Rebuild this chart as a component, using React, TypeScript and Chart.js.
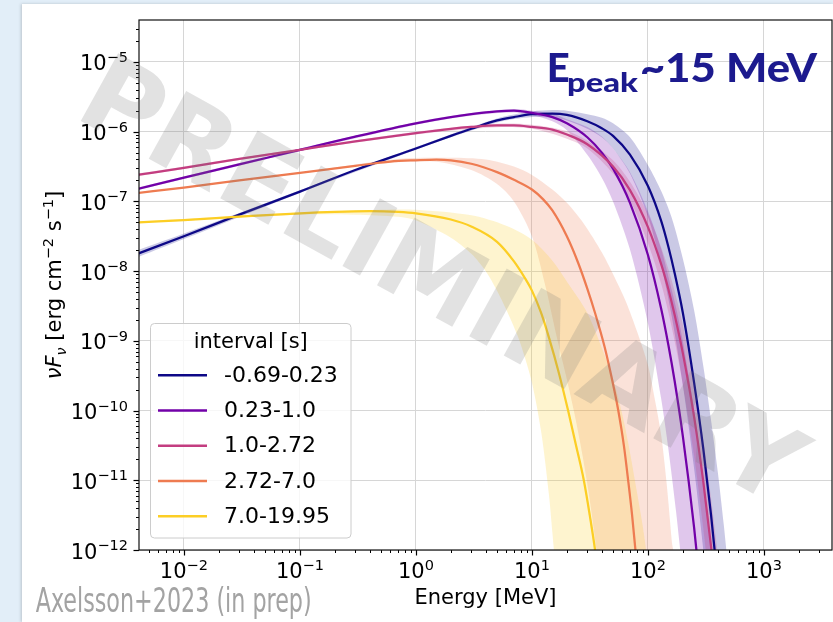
import React, { useEffect, useRef } from "react";
import { Chart, registerables } from "chart.js";

Chart.register(...registerables);

const W = 833;
const H = 622;

// Axis ranges (Energy in MeV, νFν in erg cm^-2 s^-1)
const X_MIN = 0.0041;
const X_MAX = 3860;
const Y_MIN = 1e-12;
const Y_MAX = 4e-5;

const xMajorTicks = [1e-2, 1e-1, 1, 10, 100, 1000];
const yMajorTicks = [1e-12, 1e-11, 1e-10, 1e-9, 1e-8, 1e-7, 1e-6, 1e-5];

const intervalLabels = ["-0.69-0.23", "0.23-1.0", "1.0-2.72", "2.72-7.0", "7.0-19.95"];
const lineColors = ["#0d0887", "#7201a8", "#c33d80", "#ee7b51", "#fcce25"];
const bandColors = [
  "rgba(13,8,135,0.22)",
  "rgba(114,1,168,0.22)",
  "rgba(195,61,128,0.22)",
  "rgba(238,123,81,0.22)",
  "rgba(252,206,37,0.22)",
];

// interval -0.69 – 0.23 s
const int1Energy = [0.004, 0.01, 0.03, 0.1, 0.3, 1, 2, 3, 5, 7, 10, 15, 20, 30, 40, 50, 70, 100, 130, 150, 170, 200, 250, 300, 350, 400];
const int1Flux = [1.78e-8, 3.16e-8, 6.46e-8, 1.38e-7, 2.82e-7, 5.75e-7, 8.71e-7, 1.1e-6, 1.45e-6, 1.62e-6, 1.78e-6, 1.82e-6, 1.74e-6, 1.41e-6, 1.12e-6, 8.71e-7, 4.68e-7, 1.66e-7, 5.25e-8, 2.24e-8, 9.33e-9, 2.51e-9, 2.51e-10, 2.82e-11, 3.16e-12, 3.55e-13];
const int1UpperEnergy = [0.004, 0.01, 0.1, 1, 5, 10, 15, 20, 30, 40, 50, 70, 100, 130, 160, 200, 250, 300, 350, 400, 450, 500, 550];
const int1UpperFlux = [2.0e-8, 3.47e-8, 1.45e-7, 6.03e-7, 1.55e-6, 1.95e-6, 2.04e-6, 2.0e-6, 1.78e-6, 1.58e-6, 1.32e-6, 8.32e-7, 3.31e-7, 1.41e-7, 5.89e-8, 1.51e-8, 2.75e-9, 4.37e-10, 7.24e-11, 1.32e-11, 2.34e-12, 3.98e-13, 7.94e-14];
const int1LowerEnergy = [0.004, 0.01, 0.1, 1, 5, 10, 15, 20, 30, 40, 50, 70, 100, 130, 160, 200, 250, 300, 330];
const int1LowerFlux = [1.58e-8, 2.88e-8, 1.32e-7, 5.5e-7, 1.35e-6, 1.62e-6, 1.58e-6, 1.45e-6, 1.1e-6, 8.32e-7, 5.75e-7, 2.51e-7, 6.03e-8, 1.2e-8, 2.29e-9, 2.29e-10, 1.48e-11, 1.0e-12, 1.78e-13];

// interval 0.23 – 1.0 s
const int2Energy = [0.004, 0.01, 0.03, 0.1, 0.3, 1, 2, 3, 5, 7, 10, 15, 20, 30, 40, 50, 70, 100, 130, 150, 170, 200, 250, 280];
const int2Flux = [1.51e-7, 2.19e-7, 3.39e-7, 5.5e-7, 8.51e-7, 1.32e-6, 1.62e-6, 1.78e-6, 1.95e-6, 2.0e-6, 1.86e-6, 1.62e-6, 1.32e-6, 8.32e-7, 5.01e-7, 2.95e-7, 9.55e-8, 1.7e-8, 2.88e-9, 8.71e-10, 2.63e-10, 4.27e-11, 2.09e-12, 3.31e-13];
const int2UpperEnergy = [0.004, 0.1, 1, 3, 7, 10, 15, 20, 30, 40, 50, 70, 100, 130, 150, 175, 200, 250, 300, 350, 380];
const int2UpperFlux = [1.58e-7, 5.75e-7, 1.38e-6, 1.86e-6, 2.11e-6, 2.0e-6, 1.82e-6, 1.51e-6, 1.17e-6, 8.51e-7, 5.75e-7, 2.63e-7, 7.24e-8, 2.09e-8, 8.32e-9, 2.95e-9, 9.77e-10, 1.02e-10, 1.05e-11, 1.17e-12, 3.16e-13];
const int2LowerEnergy = [0.004, 0.1, 1, 3, 7, 10, 15, 20, 30, 40, 50, 70, 100, 130, 150, 175, 200, 220];
const int2LowerFlux = [1.45e-7, 5.25e-7, 1.26e-6, 1.7e-6, 1.88e-6, 1.74e-6, 1.41e-6, 1.05e-6, 4.68e-7, 2.19e-7, 1.0e-7, 2.04e-8, 1.78e-9, 1.48e-10, 2.82e-11, 3.47e-12, 4.17e-13, 7.94e-14];

// interval 1.0 – 2.72 s
const int3Energy = [0.004, 0.01, 0.03, 0.1, 0.3, 1, 2, 3, 5, 7, 10, 15, 20, 30, 50, 70, 100, 130, 150, 170, 200, 250, 300, 350, 380];
const int3Flux = [2.4e-7, 3.02e-7, 4.07e-7, 5.5e-7, 7.24e-7, 9.55e-7, 1.1e-6, 1.17e-6, 1.23e-6, 1.23e-6, 1.17e-6, 1.07e-6, 9.12e-7, 6.61e-7, 3.16e-7, 1.45e-7, 4.27e-8, 1.26e-8, 5.5e-9, 2.34e-9, 6.61e-10, 8.13e-11, 9.55e-12, 1.12e-12, 3.16e-13];
const int3UpperEnergy = [0.004, 0.1, 1, 5, 10, 20, 30, 50, 70, 100, 130, 150, 175, 200, 250, 300, 350, 400, 430];
const int3UpperFlux = [2.51e-7, 5.69e-7, 1.0e-6, 1.3e-6, 1.26e-6, 1.02e-6, 7.41e-7, 3.89e-7, 1.91e-7, 6.61e-8, 2.19e-8, 1.07e-8, 4.27e-9, 1.7e-9, 2.34e-10, 3.8e-11, 5.5e-12, 8.51e-13, 2.51e-13];
const int3LowerEnergy = [0.004, 0.1, 1, 5, 10, 20, 30, 50, 70, 100, 130, 150, 175, 200, 250, 300, 330, 350];
const int3LowerFlux = [2.29e-7, 5.31e-7, 9.12e-7, 1.16e-6, 1.1e-6, 7.94e-7, 5.75e-7, 2.51e-7, 1.05e-7, 2.51e-8, 6.61e-9, 2.57e-9, 7.76e-10, 2.34e-10, 2.24e-11, 2.04e-12, 4.79e-13, 1.78e-13];

// interval 2.72 – 7.0 s
const int4Energy = [0.004, 0.01, 0.03, 0.1, 0.3, 0.6, 1, 1.5, 2, 3, 5, 7, 10, 12.5, 15, 20, 25, 30, 35, 42.5, 50, 55.5, 62, 67.5, 73, 78, 84];
const int4Flux = [1.32e-7, 1.58e-7, 2.0e-7, 2.57e-7, 3.24e-7, 3.72e-7, 3.89e-7, 3.98e-7, 3.89e-7, 3.47e-7, 2.63e-7, 2.04e-7, 1.48e-7, 1.07e-7, 7.41e-8, 3.16e-8, 1.32e-8, 5.62e-9, 2.51e-9, 7.94e-10, 2.4e-10, 1.0e-10, 3.16e-11, 1.0e-11, 3.16e-12, 1.0e-12, 2.51e-13];
const int4UpperEnergy = [0.004, 0.1, 0.7, 2, 4, 7, 10, 15, 20, 28, 40, 53, 65, 80, 100, 115, 130, 145, 160, 175];
const int4UpperFlux = [1.33e-7, 2.6e-7, 4.07e-7, 4.22e-7, 3.98e-7, 3.16e-7, 2.4e-7, 1.48e-7, 9.55e-8, 4.79e-8, 1.86e-8, 7.41e-9, 3.55e-9, 1.41e-9, 4.47e-10, 1.41e-10, 4.47e-11, 8.91e-12, 1.41e-12, 2.0e-13];
const int4LowerEnergy = [0.004, 0.1, 0.7, 1.5, 3, 5, 7, 10, 13, 16.4, 20, 23.3, 27, 31, 36, 40];
const int4LowerFlux = [1.3e-7, 2.54e-7, 3.63e-7, 3.72e-7, 2.82e-7, 1.78e-7, 1.0e-7, 3.16e-8, 6.31e-9, 1.12e-9, 2.82e-10, 8.91e-11, 2.51e-11, 6.31e-12, 1.0e-12, 2.0e-13];

// interval 7.0 – 19.95 s
const int5Energy = [0.004, 0.01, 0.03, 0.1, 0.2, 0.4, 0.7, 1, 2, 3, 5, 7, 8.7, 10, 12, 14, 17, 20.5, 24, 28, 31.5, 35, 38];
const int5Flux = [5.01e-8, 5.37e-8, 6.03e-8, 6.76e-8, 7.08e-8, 7.24e-8, 7.08e-8, 6.76e-8, 5.5e-8, 4.37e-8, 2.63e-8, 1.38e-8, 7.94e-9, 5.25e-9, 2.51e-9, 1.12e-9, 3.55e-10, 1.0e-10, 3.16e-11, 1.0e-11, 3.16e-12, 1.0e-12, 3.16e-13];
const int5UpperEnergy = [0.004, 0.1, 0.5, 1, 3, 6, 10, 15, 20, 30, 40, 50, 60, 70, 80, 90, 100, 115];
const int5UpperFlux = [5.13e-8, 6.92e-8, 7.59e-8, 7.59e-8, 6.31e-8, 4.47e-8, 2.82e-8, 1.41e-8, 7.08e-9, 2.51e-9, 7.94e-10, 2.82e-10, 8.91e-11, 2.51e-11, 7.08e-12, 2.24e-12, 6.31e-13, 1.0e-13];
const int5LowerEnergy = [0.004, 0.1, 0.3, 0.7, 1, 2, 3, 4, 5, 6, 7, 8, 10, 12, 14, 15, 16, 17];
const int5LowerFlux = [4.9e-8, 6.46e-8, 6.46e-8, 6.03e-8, 5.37e-8, 3.02e-8, 1.78e-8, 1.0e-8, 5.25e-9, 2.82e-9, 1.58e-9, 8.91e-10, 2.51e-10, 5.01e-11, 6.31e-12, 1.78e-12, 5.01e-13, 1.0e-13];

const intervals = [
  { e: int1Energy, f: int1Flux, ue: int1UpperEnergy, uf: int1UpperFlux, le: int1LowerEnergy, lf: int1LowerFlux },
  { e: int2Energy, f: int2Flux, ue: int2UpperEnergy, uf: int2UpperFlux, le: int2LowerEnergy, lf: int2LowerFlux },
  { e: int3Energy, f: int3Flux, ue: int3UpperEnergy, uf: int3UpperFlux, le: int3LowerEnergy, lf: int3LowerFlux },
  { e: int4Energy, f: int4Flux, ue: int4UpperEnergy, uf: int4UpperFlux, le: int4LowerEnergy, lf: int4LowerFlux },
  { e: int5Energy, f: int5Flux, ue: int5UpperEnergy, uf: int5UpperFlux, le: int5LowerEnergy, lf: int5LowerFlux },
];

const toPoints = (e: number[], f: number[]) => e.map((x, i) => ({ x, y: f[i] }));

const FONT = '"DejaVu Sans", "Liberation Sans", sans-serif';
const TICK_PX = 21;
const SUP_PX = 14.5;
const SUP_RAISE = 8.5;

// "10" with a raised exponent, as in mathtext tick labels
function drawPower(ctx: CanvasRenderingContext2D, exp: number, x: number, y: number, align: "right" | "center") {
  const base = "10";
  const sup = exp < 0 ? "\u2212" + Math.abs(exp) : String(exp);
  ctx.font = `${TICK_PX}px ${FONT}`;
  const wb = ctx.measureText(base).width;
  ctx.font = `${SUP_PX}px ${FONT}`;
  const ws = ctx.measureText(sup).width;
  const total = wb + ws;
  const x0 = align === "right" ? x - total : x - total / 2;
  ctx.textAlign = "left";
  ctx.textBaseline = "alphabetic";
  ctx.font = `${TICK_PX}px ${FONT}`;
  ctx.fillText(base, x0, y);
  ctx.font = `${SUP_PX}px ${FONT}`;
  ctx.fillText(sup, x0 + wb, y - SUP_RAISE);
}

type Run = { t: string; font: string; dy: number };

function drawRuns(ctx: CanvasRenderingContext2D, runs: Run[], cx: number, y: number) {
  let total = 0;
  for (const r of runs) {
    ctx.font = r.font;
    total += ctx.measureText(r.t).width;
  }
  let x = cx - total / 2;
  ctx.textAlign = "left";
  ctx.textBaseline = "alphabetic";
  for (const r of runs) {
    ctx.font = r.font;
    ctx.fillText(r.t, x, y + r.dy);
    x += ctx.measureText(r.t).width;
  }
}

const decorPlugin = {
  id: "decor",
  afterDatasetsDraw(chart: any) {
    const { ctx, chartArea: a, scales } = chart;
    const xs = scales.x;
    const ys = scales.y;
    ctx.save();

    // tick marks (major and minor), outside the axes
    ctx.strokeStyle = "#000";
    const tickAt = (axis: "x" | "y", v: number, len: number, lw: number) => {
      ctx.lineWidth = lw;
      ctx.beginPath();
      if (axis === "y") {
        const p = Math.round(ys.getPixelForValue(v)) + 0.5;
        ctx.moveTo(a.left - len, p);
        ctx.lineTo(a.left, p);
      } else {
        const p = Math.round(xs.getPixelForValue(v)) + 0.5;
        ctx.moveTo(p, a.bottom);
        ctx.lineTo(p, a.bottom + len);
      }
      ctx.stroke();
    };
    for (let e = -13; e <= -5; e++) {
      for (let k = 2; k <= 9; k++) {
        const v = k * Math.pow(10, e);
        if (v > Y_MIN && v < Y_MAX) tickAt("y", v, 3, 1);
      }
    }
    for (let e = -3; e <= 3; e++) {
      for (let k = 2; k <= 9; k++) {
        const v = k * Math.pow(10, e);
        if (v > X_MIN && v < X_MAX) tickAt("x", v, 3, 1);
      }
    }
    yMajorTicks.forEach((v) => tickAt("y", v, 5.5, 1.2));
    xMajorTicks.forEach((v) => tickAt("x", v, 5.5, 1.2));

    // frame
    ctx.lineWidth = 1.2;
    ctx.strokeStyle = "#111";
    ctx.strokeRect(a.left, a.top, a.right - a.left, a.bottom - a.top);

    // tick labels
    ctx.fillStyle = "#000";
    yMajorTicks.forEach((v) => {
      drawPower(ctx, Math.round(Math.log10(v)), a.left - 11, ys.getPixelForValue(v) + 8.5, "right");
    });
    xMajorTicks.forEach((v) => {
      drawPower(ctx, Math.round(Math.log10(v)), xs.getPixelForValue(v), a.bottom + 28, "center");
    });

    // axis titles
    ctx.font = `21px ${FONT}`;
    ctx.textAlign = "center";
    ctx.textBaseline = "alphabetic";
    ctx.fillText("Energy [MeV]", (a.left + a.right) / 2, 604);

    ctx.save();
    ctx.translate(61, (a.top + a.bottom) / 2);
    ctx.rotate(-Math.PI / 2);
    const it = `italic 21px ${FONT}`;
    const rg = `21px ${FONT}`;
    const sm = `14.5px ${FONT}`;
    const smi = `italic 14.5px ${FONT}`;
    drawRuns(
      ctx,
      [
        { t: "\u03bd", font: it, dy: 0 },
        { t: "F", font: it, dy: 0 },
        { t: "\u03bd", font: smi, dy: 4.5 },
        { t: " [erg cm", font: rg, dy: 0 },
        { t: "\u22122", font: sm, dy: -8.5 },
        { t: " s", font: rg, dy: 0 },
        { t: "\u22121", font: sm, dy: -8.5 },
        { t: "]", font: rg, dy: 0 },
      ],
      0,
      0
    );
    ctx.restore();

    // watermark
    ctx.save();
    ctx.translate(444, 278);
    ctx.rotate((29 * Math.PI) / 180);
    ctx.font = `bold 106px ${FONT}`;
    ctx.fillStyle = "rgba(120,120,120,0.21)";
    ctx.textAlign = "center";
    ctx.textBaseline = "alphabetic";
    ctx.fillText("PRELIMINARY", 0, 0.365 * 106);
    ctx.restore();

    // legend
    const lx = 150.5, ly = 323.5, lw = 200.5, lh = 214.5;
    ctx.beginPath();
    ctx.roundRect(lx, ly, lw, lh, 4);
    ctx.fillStyle = "rgba(255,255,255,0.8)";
    ctx.fill();
    ctx.strokeStyle = "#cccccc";
    ctx.lineWidth = 1;
    ctx.stroke();
    ctx.fillStyle = "#000";
    ctx.font = `21px ${FONT}`;
    ctx.textAlign = "center";
    ctx.fillText("interval [s]", lx + lw / 2, 348);
    intervalLabels.forEach((lab, i) => {
      const yy = 375.3 + 35.25 * i;
      ctx.strokeStyle = lineColors[i];
      ctx.lineWidth = 2.5;
      ctx.beginPath();
      ctx.moveTo(158, yy);
      ctx.lineTo(207, yy);
      ctx.stroke();
      ctx.fillStyle = "#000";
      ctx.font = `22px ${FONT}`;
      ctx.textAlign = "left";
      ctx.fillText(lab, 224, yy + 6.5);
    });

    ctx.restore();
  },
};

export default function App() {
  const canvasRef = useRef<HTMLCanvasElement | null>(null);

  useEffect(() => {
    const canvas = canvasRef.current;
    if (!canvas) return;

    const datasets: any[] = [];
    intervals.forEach((s, i) => {
      datasets.push({
        label: `${intervalLabels[i]} band`,
        data: [...toPoints(s.ue, s.uf), ...toPoints(s.le, s.lf).reverse()],
        fill: "shape",
        backgroundColor: bandColors[i],
        borderColor: "rgba(0,0,0,0)",
        borderWidth: 0,
        pointRadius: 0,
        tension: 0.3,
        order: 30 - i,
      });
    });
    intervals.forEach((s, i) => {
      datasets.push({
        label: intervalLabels[i],
        data: toPoints(s.e, s.f),
        fill: false,
        borderColor: lineColors[i],
        borderWidth: 2.25,
        pointRadius: 0,
        cubicInterpolationMode: "monotone",
        order: 10 - i,
      });
    });

    const chart = new Chart(canvas, {
      type: "line",
      data: { datasets },
      options: {
        responsive: false,
        animation: false,
        devicePixelRatio: 1,
        events: [],
        layout: { padding: { top: 20, right: 1, bottom: 0, left: 0 } },
        elements: { line: { capBezierPoints: false }, point: { radius: 0 } },
        plugins: { legend: { display: false }, tooltip: { enabled: false } },
        scales: {
          x: {
            type: "logarithmic",
            min: X_MIN,
            max: X_MAX,
            afterBuildTicks: (s: any) => {
              s.ticks = xMajorTicks.map((v) => ({ value: v }));
            },
            afterFit: (s: any) => {
              s.height = 72;
            },
            ticks: { display: false },
            grid: { color: "#d6d6d6", lineWidth: 1, drawTicks: false },
            border: { display: false },
          },
          y: {
            type: "logarithmic",
            min: Y_MIN,
            max: Y_MAX,
            afterBuildTicks: (s: any) => {
              s.ticks = yMajorTicks.map((v) => ({ value: v }));
            },
            afterFit: (s: any) => {
              s.width = 139;
            },
            ticks: { display: false },
            grid: { color: "#d6d6d6", lineWidth: 1, drawTicks: false },
            border: { display: false },
          },
        },
      } as any,
      plugins: [decorPlugin],
    });

    return () => chart.destroy();
  }, []);

  return (
    <div style={{ position: "fixed", left: 0, top: 0, width: W, height: H, background: "#e2eef8", overflow: "hidden" }}>
      <div
        style={{
          position: "absolute",
          left: 22,
          top: 4,
          width: W - 22,
          height: H - 4,
          background: "#ffffff",
          boxShadow: "-1px 0 3px rgba(0,0,0,0.18)",
        }}
      />
      <canvas ref={canvasRef} width={W} height={H} style={{ position: "absolute", left: 0, top: 0, width: W, height: H }} />
      <svg width={W} height={H} style={{ position: "absolute", left: 0, top: 0 }}>
        <g fill="#1c1a8e" fontFamily="Lato, 'Noto Sans', sans-serif" fontWeight={900}>
          <text x={546.7} y={82} fontSize={40}>E</text>
          <text x={567} y={91.5} fontSize={26.5} textLength={71} lengthAdjust="spacingAndGlyphs">peak</text>
          <text x={640} y={82} fontSize={40} textLength={177} lengthAdjust="spacingAndGlyphs">~15 MeV</text>
        </g>
        <text
          x={35.7}
          y={612}
          fontSize={34}
          fill="#a3a3a3"
          fontFamily="'DejaVu Sans Condensed', 'Liberation Sans Narrow', 'DejaVu Sans', sans-serif"
          textLength={276}
          lengthAdjust="spacingAndGlyphs"
        >
          Axelsson+2023 (in prep)
        </text>
      </svg>
    </div>
  );
}
